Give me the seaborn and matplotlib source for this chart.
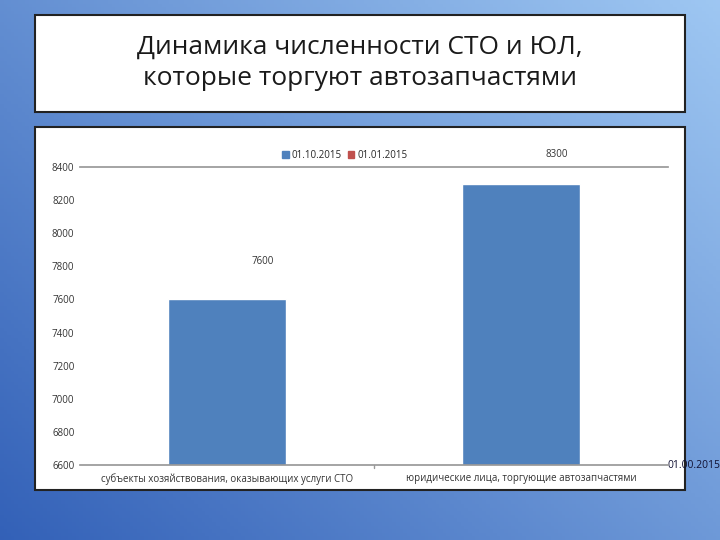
import numpy as np
import pandas as pd
import seaborn as sns
import matplotlib.pyplot as plt
from matplotlib.patches import Rectangle

categories = ["субъекты хозяйствования, оказывающих услуги СТО",
              "юридические лица, торгующие автозапчастями"]
values_oct = [7600, 8300]
series_names = ["01.10.2015", "01.01.2015"]
yticks = list(range(6600, 8401, 200))

sns.set_theme(style="white")
plt.rcParams['font.family'] = ['Open Sans', 'DejaVu Sans']

fig = plt.figure(figsize=(7.2, 5.4), dpi=100)

# slide background gradient
bg = fig.add_axes([0, 0, 1, 1])
gx = np.linspace(0, 1, 200)
gy = np.linspace(0, 1, 150)
X, Y = np.meshgrid(gx, gy)
t = np.clip(0.55 * X + 0.45 * (1 - Y), 0, 1)
c0 = np.array([0.20, 0.38, 0.72])
c1 = np.array([0.62, 0.78, 0.95])
img = c0 + (c1 - c0) * t[..., None]
bg.imshow(img, aspect="auto", extent=[0, 1, 0, 1], origin="upper")
bg.set_xlim(0, 1)
bg.set_ylim(0, 1)
bg.axis("off")

# title box
bg.add_patch(Rectangle((35/720, 1 - 112/540), 650/720, 97/540, facecolor="white",
                       edgecolor="#222222", lw=1.5))
bg.text(360/720, 1 - 63/540, "Динамика численности СТО и ЮЛ,\nкоторые торгуют автозапчастями",
        ha="center", va="center", fontsize=19, color="#1a1a1a", linespacing=1.3)
# chart box
bg.add_patch(Rectangle((35/720, 1 - 490/540), 650/720, 363/540, facecolor="white",
                       edgecolor="#222222", lw=1.5))

ax = fig.add_axes([80/720, 75/540, 588/720, 298/540])
df = pd.DataFrame({"cat": categories, "val": values_oct})
sns.barplot(data=df, x="cat", y="val", color="#4f81bd", width=0.4, saturation=1, ax=ax)
ax.set_facecolor("none")
ax.set_ylim(6600, 8400)
ax.set_yticks(yticks)
ax.set_yticklabels([str(v) for v in yticks], fontsize=7, color="#333333")
ax.tick_params(axis="y", length=0, pad=4)
ax.tick_params(axis="x", length=0, labelsize=7, colors="#333333", pad=6)
ax.set_xlabel("")
ax.set_ylabel("")
for s in ["left", "right"]:
    ax.spines[s].set_visible(False)
ax.spines["top"].set_color("#999999")
ax.spines["bottom"].set_color("#999999")
ax.axvline(0.5, ymin=-0.01, ymax=0, color="#999999", lw=1, clip_on=False)
label_offsets = [230, 175]
for i, v in enumerate(values_oct):
    ax.text(i + 0.12, v + label_offsets[i], str(v), ha="center", va="center",
            fontsize=7, color="#333333", clip_on=False)

h1 = Rectangle((0, 0), 1, 1, color="#4f81bd")
h2 = Rectangle((0, 0), 1, 1, color="#c0504d")
ax.legend([h1, h2], series_names, loc="lower center", bbox_to_anchor=(0.45, 1.0),
          ncol=2, frameon=False, fontsize=7, handlelength=0.7, handleheight=0.7,
          columnspacing=0.6, handletextpad=0.3, borderaxespad=0.2)

bg.text(668/720, 1 - 465/540, "01.00.2015", fontsize=7.5, color="#111133", va="center")

fig.savefig("out.png", dpi=100)
